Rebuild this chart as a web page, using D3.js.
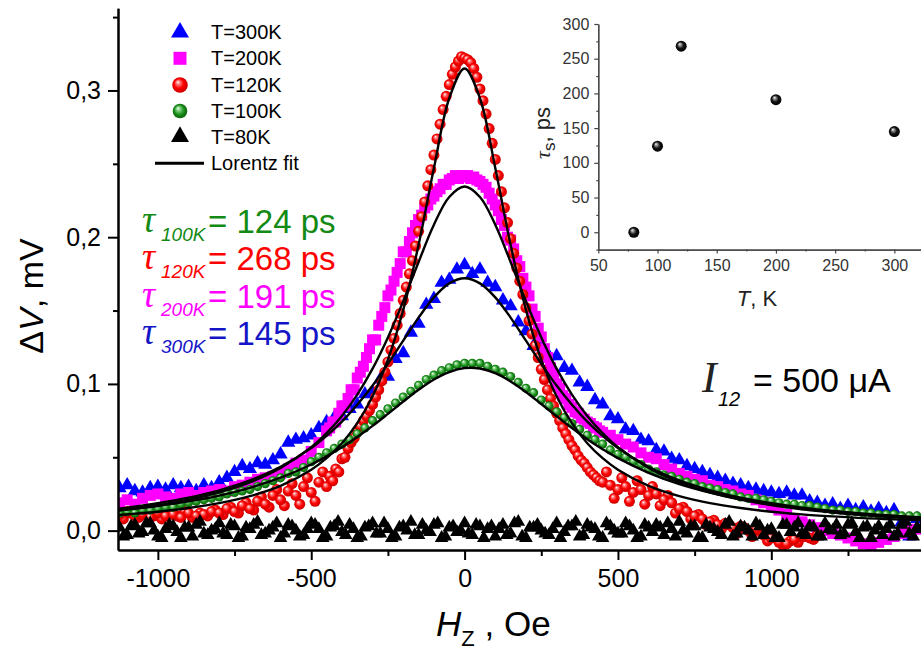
<!DOCTYPE html>
<html><head><meta charset="utf-8">
<script src="https://cdn.jsdelivr.net/npm/d3@7"></script>
<style>body{margin:0;background:#fff} svg{display:block;font-family:"Liberation Sans",Arial,sans-serif}</style>
</head><body><svg id="c" width="921" height="650"></svg>
<script>
// ---------- DATA ----------
const hField = [-1125,-1100,-1075,-1050,-1025,-1000,-975,-950,-925,-900,-875,-850,-825,-800,-775,-750,-725,-700,-675,-650,-625,-600,-575,-550,-525,-500,-475,-450,-425,-400,-375,-350,-325,-300,-275,-250,-225,-200,-175,-150,-125,-100,-75,-50,-25,0,25,50,75,100,125,150,175,200,225,250,275,300,325,350,375,400,425,450,475,500,525,550,575,600,625,650,675,700,725,750,775,800,825,850,875,900,925,950,975,1000,1025,1050,1075,1100,1125,1150,1175,1200,1225,1250,1275,1300,1325,1350,1375,1400,1425,1450,1475];
const hCore = [-450,-440,-430,-420,-410,-400,-390,-380,-370,-360,-350,-340,-330,-320,-310,-300,-290,-280,-270,-260,-250,-240,-230,-220,-210,-200,-190,-180,-170,-160,-150,-140,-130,-120,-110,-100,-90,-80,-70,-60,-50,-40,-30,-20,-10,0,10,20,30,40,50,60,70,80,90,100,110,120,130,140,150,160,170,180,190,200,210,220,230,240,250,260,270,280,290,300,310,320,330,340,350,360,370,380,390,400,410,420,430,440,450];

const v300K = [0.029,0.031,0.027,0.026,0.029,0.030,0.028,0.031,0.029,0.030,0.027,0.031,0.029,0.033,0.036,
 0.040,0.044,0.042,0.046,0.045,0.048,0.052,0.060,0.062,0.063,0.065,0.070,0.074,0.077,0.078,
 0.083,0.086,0.093,0.094,0.103,0.105,0.117,0.121,0.135,0.141,0.154,0.158,0.169,0.171,0.178,
 0.181,0.175,0.178,0.169,0.166,0.157,0.153,0.142,0.136,0.126,0.125,0.119,0.119,0.111,0.109,
 0.101,0.098,0.089,0.086,0.078,0.076,0.069,0.068,0.062,0.061,0.055,0.054,0.049,0.048,0.044,
 0.042,0.040,0.038,0.036,0.034,0.032,0.031,0.029,0.028,0.027,0.026,0.025,0.026,0.024,0.024,
 0.020,0.019,0.017,0.018,0.015,0.017,0.014,0.016,0.013,0.015,0.012,0.014,0.006,-0.004,0.008];

const v200KLeft = [0.019,0.021,0.018,0.022,0.024,0.025,0.023,0.022,0.025,0.026,0.024,0.026,0.027,0.028,0.027,0.030,0.031,0.033,0.035,0.036,0.037,0.039,0.042,0.046,0.048,0.054,0.060];
const v200KCore = [0.068,0.070,0.074,0.074,0.080,0.085,0.085,0.090,0.096,0.096,
 0.104,0.108,0.112,0.118,0.124,0.130,0.130,0.140,0.146,0.152,
 0.160,0.164,0.170,0.176,0.182,0.190,0.190,0.197,0.203,0.208,
 0.212,0.215,0.220,0.222,0.226,0.228,0.231,0.233,0.236,0.236,
 0.239,0.240,0.242,0.240,0.242,
 0.241,
 0.242,0.240,0.241,0.239,0.238,0.236,0.234,0.230,0.226,0.222,
 0.218,0.212,0.208,0.200,0.198,0.192,0.184,0.180,0.172,0.166,
 0.160,0.151,0.146,0.138,0.132,0.124,0.118,0.111,0.106,0.100,
 0.097,0.092,0.090,0.086,0.084,0.081,0.080,0.077,0.076,0.074,
 0.073,0.071,0.070,0.068,0.067];
const v200KRight = [0.065,0.062,0.059,0.057,0.053,0.050,0.049,0.045,0.042,0.039,0.037,0.035,0.034,0.031,0.030,0.028,0.027,0.025,0.024,0.021,0.019,0.017,0.014,0.011,0.008,0.006,0.004,0.002,0.000,-0.002,-0.003,-0.005,-0.007,-0.009,-0.010,-0.008,-0.006,-0.004,-0.002,0.000,0.001];

const v120KLeft = [0.011,0.013,0.010,0.011,0.009,0.012,0.010,0.011,0.009,0.012,0.010,0.011,0.013,0.012,0.015,0.013,0.017,0.015,0.020,0.018,0.024,0.021,0.027,0.024,0.030,0.026,0.033];
const v120KLeftB = [0.008,0.012,0.009,0.013,0.010,0.008,0.012,0.010,0.013,0.009,0.012,0.010,0.014,0.011,0.016,0.012,0.019,0.014,0.023,0.016,0.028,0.017,0.032,0.018,0.036,0.020,0.040];
const v120KCore = [0.030,0.037,0.034,0.042,0.040,0.049,0.050,0.056,0.060,0.063,
 0.068,0.071,0.075,0.078,0.082,0.086,0.091,0.096,0.102,0.108,
 0.115,0.123,0.131,0.140,0.148,0.157,0.166,0.175,0.184,0.194,
 0.204,0.214,0.224,0.235,0.246,0.256,0.267,0.277,0.287,0.296,
 0.304,0.311,0.316,0.320,0.323,
 0.322,
 0.321,0.319,0.315,0.309,0.301,0.293,0.284,0.274,0.264,0.253,
 0.242,0.231,0.220,0.210,0.199,0.189,0.179,0.170,0.161,0.152,
 0.143,0.134,0.126,0.118,0.110,0.103,0.096,0.090,0.085,0.080,
 0.075,0.070,0.066,0.062,0.058,0.055,0.051,0.048,0.046,0.043,
 0.040,0.038,0.036,0.034,0.033];
const v120KRight = [0.031,0.028,0.030,0.026,0.028,0.024,0.025,0.021,0.019,0.015,0.013,0.010,0.008,0.006,0.004,0.005,0.002,0.003,0.000,0.001,-0.003,-0.005,-0.008,-0.009,-0.006,-0.004,-0.005,-0.003];
const v120KRightB = [0.040,0.022,0.036,0.020,0.034,0.018,0.030,0.017,0.024,0.012,0.016,0.008,0.011,0.004,0.007,0.001,0.004,-0.002,0.002,-0.004,0.000,-0.007,-0.005,-0.010,-0.007,-0.008,-0.004,-0.006];

const v100K = [0.012,0.013,0.012,0.014,0.014,0.015,0.016,0.016,0.018,0.019,0.020,0.021,0.022,0.023,0.025,
 0.026,0.027,0.028,0.030,0.032,0.034,0.036,0.039,0.040,0.043,0.047,0.050,0.053,0.056,0.059,
 0.062,0.066,0.070,0.075,0.079,0.083,0.087,0.091,0.095,0.099,0.103,0.106,0.109,0.111,0.113,
 0.114,0.114,0.114,0.112,0.110,0.108,0.105,0.101,0.097,0.094,0.089,0.085,0.081,0.077,0.073,
 0.069,0.065,0.062,0.059,0.055,0.052,0.050,0.047,0.045,0.042,0.040,0.038,0.037,0.035,0.033,
 0.032,0.030,0.029,0.028,0.026,0.025,0.023,0.022,0.022,0.021,0.020,0.019,0.018,0.018,0.017,
 0.017,0.016,0.015,0.014,0.014,0.013,0.013,0.012,0.012,0.011,0.011,0.011,0.010,0.010,0.010];

const v80K = [0.002,-0.003,0.004,-0.001,0.005,-0.004,0.001,0.003,-0.005,0.002,0.004,-0.002,0.000,0.005,-0.003,
 0.003,-0.004,0.001,0.006,-0.002,0.002,-0.005,0.004,0.000,-0.003,0.005,0.001,-0.004,0.003,-0.001,
 0.004,-0.005,0.002,0.005,-0.002,0.001,-0.004,0.003,0.006,-0.003,0.000,0.004,-0.005,0.002,-0.001,
 0.005,-0.003,0.003,0.001,-0.004,0.004,-0.002,0.006,-0.005,0.002,0.000,-0.003,0.005,-0.001,0.003,
 -0.004,0.004,0.001,-0.005,0.003,-0.002,0.005,0.000,-0.004,0.002,0.004,-0.003,0.001,0.006,-0.002,
 0.003,-0.005,0.002,-0.001,0.004,-0.004,0.003,0.000,0.005,-0.003,0.001,-0.005,0.004,0.002,-0.002,
 0.003,-0.004,0.005,0.000,-0.003,0.004,-0.001,0.002,-0.005,0.003,0.001,-0.004,0.004,-0.002,0.002];
const v80KB = [-0.004,0.003,-0.002,0.005,0.000,-0.005,0.004,-0.001,0.002,-0.004,0.006,-0.003,0.001,-0.002,0.004,
 -0.005,0.002,0.004,-0.003,0.000,0.005,-0.002,0.003,-0.004,0.001,0.004,-0.005,0.002,0.006,-0.003,
 0.001,-0.004,0.003,-0.002,0.005,-0.005,0.002,0.000,-0.003,0.004,-0.001,0.005,-0.004,0.003,0.000,
 -0.002,0.004,-0.005,0.003,0.001,-0.003,0.005,-0.004,0.002,0.004,-0.002,0.001,-0.005,0.003,0.006,
 -0.003,0.002,-0.004,0.005,0.000,-0.002,0.003,-0.005,0.004,-0.001,0.002,0.005,-0.004,0.000,0.003,
 -0.005,0.004,0.001,-0.003,0.006,-0.002,0.002,-0.004,0.003,0.000,-0.005,0.004,-0.001,0.005,-0.003,
 0.002,-0.004,0.001,0.004,-0.002,0.005,-0.005,0.003,0.000,-0.003,0.004,-0.002,0.006,-0.004,0.001];

// Lorentz fit curves
const fitH = [-1130,-1100,-1000,-900,-800,-700,-600,-500,-450,-400,-350,-300,-250,-200,-150,-100,-50,0,50,100,150,200,250,300,350,400,450,500,600,700,800,900,1000,1100,1200,1300,1400,1488];
const fit300K = [0.0150,0.0157,0.0187,0.0225,0.0275,0.0342,0.0435,0.0563,0.0646,0.0743,0.0858,0.0989,0.1137,0.1295,0.1452,0.1590,0.1685,0.1720,0.1685,0.1590,0.1452,0.1295,0.1137,0.0989,0.0858,0.0743,0.0646,0.0563,0.0435,0.0342,0.0275,0.0225,0.0187,0.0157,0.0134,0.0116,0.0101,0.0090];
const fit200K = [0.0138,0.0146,0.0174,0.0211,0.0261,0.0329,0.0427,0.0569,0.0665,0.0782,0.0927,0.1104,0.1317,0.1564,0.1831,0.2085,0.2274,0.2345,0.2274,0.2085,0.1831,0.1564,0.1317,0.1104,0.0927,0.0782,0.0665,0.0569,0.0427,0.0329,0.0261,0.0211,0.0174,0.0146,0.0124,0.0106,0.0092,0.0082];
const fit120K = [0.0106,0.0111,0.0129,0.0154,0.0187,0.0235,0.0305,0.0415,0.0494,0.0596,0.0733,0.0916,0.1166,0.1505,0.1948,0.2471,0.2947,0.3150,0.2947,0.2471,0.1948,0.1505,0.1166,0.0916,0.0733,0.0596,0.0494,0.0415,0.0305,0.0235,0.0187,0.0154,0.0129,0.0111,0.0097,0.0085,0.0077,0.0070];
const fit100K = [0.0136,0.0143,0.0168,0.0199,0.0239,0.0292,0.0361,0.0451,0.0506,0.0568,0.0638,0.0714,0.0796,0.0880,0.0960,0.1030,0.1081,0.1108,0.1105,0.1073,0.1017,0.0945,0.0863,0.0780,0.0699,0.0623,0.0555,0.0494,0.0394,0.0317,0.0259,0.0214,0.0179,0.0152,0.0130,0.0113,0.0098,0.0088];

const legendLabels = ["T=300K","T=200K","T=120K","T=100K","T=80K","Lorentz fit"];
const tauSubs = ["100K","120K","200K","300K"];
const tauVals = [124,268,191,145];
const insetT = [80,100,120,200,300];
const insetTau = [0,124,268,191,145];
const yTicks = [0,0.1,0.2,0.3];
const yMinor = [0.05,0.15,0.25,0.35];
const xTicks = [-1000,-500,0,500,1000];
const xMinor = [-750,-250,250,750,1250];
const insetYTicks = [0,50,100,150,200,250,300];
const insetYMinor = [-25,25,75,125,175,225,275];
const insetXTicks = [50,100,150,200,250,300];
const insetXMinor = [75,125,175,225,275];

const C = {blue:"#0000ff", mag:"#ff00ff", red:"#ff0000", green:"#138a13", black:"#000"};

// ---------- SETUP ----------
const svg = d3.select("#c");
const x = d3.scaleLinear().domain([-1130,1488]).range([118,921]);
const y = d3.scaleLinear().domain([-0.0132,0.356]).range([550,8.3]);

const defs = svg.append("defs");
defs.append("clipPath").attr("id","clip").append("rect").attr("x",118).attr("y",0).attr("width",803).attr("height",550);
function grad(id, stops){
  const g = defs.append("radialGradient").attr("id",id).attr("cx","50%").attr("cy","50%").attr("r","55%").attr("fx","35%").attr("fy","30%");
  stops.forEach(s=>g.append("stop").attr("offset",s[0]).attr("stop-color",s[1]));
}
grad("gRed",[[0,"#ffffff"],[0.22,"#ff8080"],[0.55,"#ff0000"],[1,"#c00000"]]);
grad("gGreen",[[0,"#ffffff"],[0.25,"#7fcf7f"],[0.6,"#1a8f1a"],[1,"#0a5a0a"]]);
grad("gBlack",[[0,"#ffffff"],[0.2,"#999"],[0.55,"#111"],[1,"#000"]]);

const plot = svg.append("g").attr("clip-path","url(#clip)");

function scatter(hs, vs, kind, fill, size){
  const pts = d3.zip(hs, vs);
  const g = plot.append("g");
  if (kind==="circle"){
    g.selectAll("circle").data(pts).join("circle")
      .attr("cx",d=>x(d[0])).attr("cy",d=>y(d[1])).attr("r",size).attr("fill",fill);
  } else {
    const sym = d3.symbol().type(kind==="tri"?d3.symbolTriangle:d3.symbolSquare).size(size);
    g.selectAll("path").data(pts).join("path").attr("d",sym)
      .attr("transform",d=>`translate(${x(d[0])},${y(d[1])})`).attr("fill",fill);
  }
}
// measurement grids (the field was swept in half steps between the listed points)
const hHalf = hField.map(h=>h+12.5);
const left = hField.filter(h=>h<-450);
const leftB = hHalf.filter(h=>h<-450);
const h200 = left.concat(hCore, hField.filter(h=>h>450));
const h120 = left.concat(hCore, hField.filter(h=>h>450 && h<=1150));
const h120B = leftB.concat(hHalf.filter(h=>h>450 && h<=1150));

scatter(hField, v300K, "tri", C.blue, 88);
scatter(h200, v200KLeft.concat(v200KCore, v200KRight), "sq", C.mag, 121);
scatter(h120B, v120KLeftB.concat(v120KRightB), "circle", "url(#gRed)", 5.5);
scatter(h120, v120KLeft.concat(v120KCore, v120KRight), "circle", "url(#gRed)", 5.5);
scatter(hField, v100K, "circle", "url(#gGreen)", 4.6);
scatter(hField, v80K, "tri", C.black, 80);
scatter(hHalf, v80KB, "tri", C.black, 80);

const line = d3.line().x(d=>x(d[0])).y(d=>y(d[1])).curve(d3.curveCatmullRom);
[fit300K, fit200K, fit120K, fit100K].forEach(f=>{
  plot.append("path").attr("d",line(d3.zip(fitH,f))).attr("fill","none").attr("stroke","#000").attr("stroke-width",2.4);
});

// ---------- AXES ----------
const fmt = d=>d3.format(".1f")(d).replace(".",",");
function styleAxis(g, fs, col){
  g.select(".domain").attr("stroke",col).attr("stroke-width",fs>20?2:1.2);
  g.selectAll(".tick line").attr("stroke",col).attr("stroke-width",fs>20?2:1.2);
  g.selectAll("text").attr("font-size",fs).attr("fill",col==="#000"?"#000":"#333").attr("font-family","Liberation Sans, Arial, sans-serif");
}
let ga = svg.append("g").attr("transform","translate(118,0)")
  .call(d3.axisLeft(y).tickValues(yTicks).tickFormat(fmt).tickSize(10).tickSizeOuter(0).tickPadding(7));
styleAxis(ga,25,"#000");
ga = svg.append("g").attr("transform","translate(118,0)")
  .call(d3.axisLeft(y).tickValues(yMinor).tickFormat("").tickSize(5).tickSizeOuter(0));
styleAxis(ga,25,"#000");
ga = svg.append("g").attr("transform","translate(0,550)")
  .call(d3.axisBottom(x).tickValues(xTicks).tickFormat(d3.format("d")).tickSize(10).tickSizeOuter(0).tickPadding(9));
styleAxis(ga,25,"#000");
ga.selectAll("text").text(d=>String(d));
ga = svg.append("g").attr("transform","translate(0,550)")
  .call(d3.axisBottom(x).tickValues(xMinor).tickFormat("").tickSize(6).tickSizeOuter(0));
styleAxis(ga,25,"#000");

// axis titles
const yl = svg.append("text").attr("transform","translate(43,296) rotate(-90)").attr("text-anchor","middle").attr("font-size",34);
yl.append("tspan").text("Δ");
yl.append("tspan").attr("font-style","italic").text("V");
yl.append("tspan").text(", mV");
const xl = svg.append("text").attr("x",436).attr("y",636).attr("font-size",35);
xl.append("tspan").attr("font-style","italic").text("H");
xl.append("tspan").attr("font-size",22).attr("dy",10).text("Z");
xl.append("tspan").attr("dy",-10).text(" , Oe");

// ---------- LEGEND ----------
const lg = svg.append("g");
const lgY = [32.3,58.3,85,111,136.7,163.3];
const lgSym = [["tri",C.blue,140],["sq",C.mag,169],["circle","url(#gRed)",7.8],["circle","url(#gGreen)",7.3],["tri",C.black,140]];
lgSym.forEach((s,i)=>{
  if (s[0]==="circle") lg.append("circle").attr("cx",180).attr("cy",lgY[i]).attr("r",s[2]).attr("fill",s[1]);
  else lg.append("path").attr("d",d3.symbol().type(s[0]==="tri"?d3.symbolTriangle:d3.symbolSquare).size(s[2])())
    .attr("transform",`translate(180,${lgY[i]})`).attr("fill",s[1]);
});
lg.append("line").attr("x1",155).attr("x2",204).attr("y1",lgY[5]).attr("y2",lgY[5]).attr("stroke","#000").attr("stroke-width",3);
legendLabels.forEach((t,i)=>{
  lg.append("text").attr("x",211).attr("y",lgY[i]+7).attr("font-size",20).text(t);
});

// ---------- TAU ANNOTATIONS ----------
const tauCol = [C.green, C.red, C.mag, "#1515c8"];
const tauBase = [233,270.3,307.6,345];
tauSubs.forEach((s,i)=>{
  svg.append("text").attr("fill",tauCol[i]).attr("x",142).attr("y",tauBase[i]-1)
    .attr("font-family","Liberation Serif, serif").attr("font-style","italic").attr("font-size",37).text("τ");
  svg.append("text").attr("fill",tauCol[i]).attr("x",161).attr("y",tauBase[i]+8)
    .attr("font-style","italic").attr("font-size",19).text(s);
  svg.append("text").attr("fill",tauCol[i]).attr("x",208).attr("y",tauBase[i])
    .attr("font-size",33).text("= "+tauVals[i]+" ps");
});

// I12 annotation
svg.append("text").attr("x",702).attr("y",392).attr("font-family","Liberation Serif, serif").attr("font-style","italic").attr("font-size",44).attr("fill","#222").text("I");
svg.append("text").attr("x",718).attr("y",406).attr("font-style","italic").attr("font-size",20).text("12");
svg.append("text").attr("x",753).attr("y",392).attr("font-size",34).text("= 500 μA");

// ---------- INSET ----------
const xi = d3.scaleLinear().domain([50,322.5]).range([598.3,921]);
const yi = d3.scaleLinear().domain([-25,300]).range([249.6,24]);
ga = svg.append("g").attr("transform","translate(598.3,0)")
  .call(d3.axisLeft(yi).tickValues(insetYTicks).tickSize(4).tickSizeOuter(0).tickPadding(5));
styleAxis(ga,16,"#444");
ga = svg.append("g").attr("transform","translate(598.3,0)")
  .call(d3.axisLeft(yi).tickValues(insetYMinor).tickFormat("").tickSize(2).tickSizeOuter(0));
styleAxis(ga,16,"#444");
ga = svg.append("g").attr("transform","translate(0,249.6)")
  .call(d3.axisBottom(xi).tickValues(insetXTicks).tickSize(4).tickSizeOuter(0).tickPadding(6));
styleAxis(ga,16,"#444");
ga = svg.append("g").attr("transform","translate(0,249.6)")
  .call(d3.axisBottom(xi).tickValues(insetXMinor).tickFormat("").tickSize(2).tickSizeOuter(0));
styleAxis(ga,16,"#444");
svg.append("g").selectAll("circle").data(d3.zip(insetT,insetTau)).join("circle")
  .attr("cx",d=>xi(d[0])).attr("cy",d=>yi(d[1])).attr("r",5.5).attr("fill","url(#gBlack)");
const ixl = svg.append("text").attr("x",757).attr("y",306).attr("text-anchor","middle").attr("font-size",22).attr("fill","#222");
ixl.append("tspan").attr("font-style","italic").text("T");
ixl.append("tspan").text(", K");
const iyl = svg.append("text").attr("transform","translate(550,133) rotate(-90)").attr("text-anchor","middle").attr("font-size",22).attr("fill","#222");
iyl.append("tspan").attr("font-family","Liberation Serif, serif").attr("font-style","italic").text("τ");
iyl.append("tspan").attr("font-size",17).attr("dy",5).text("s");
iyl.append("tspan").attr("dy",-5).text(", ps");
</script></body></html>
